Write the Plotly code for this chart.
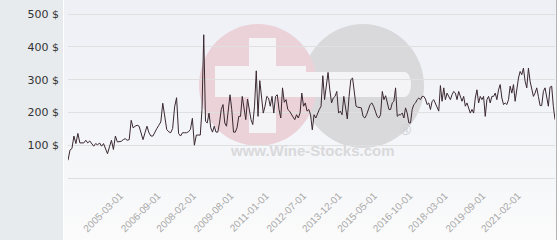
import base64
import pandas as pd
import plotly.graph_objects as go

# ---- data, in three consecutive stretches ----
prices_a = [
    54, 85, 90, 128, 105, 136, 107, 107, 107, 115, 107, 113, 103, 97, 105, 101, 107, 97, 105, 90,
    74, 95, 115, 87, 128, 110, 112, 112, 117, 120, 115, 117, 176, 153, 158, 161, 158, 136, 117, 138,
    158, 138, 128, 128, 141, 151, 161, 171, 228, 187, 148, 141, 138, 151, 217, 245, 136, 128, 138, 138,
    138, 141, 148, 182, 100, 131, 131, 131,
]
prices_b = [
    209, 437, 173, 168, 198, 153, 140, 158, 140, 140, 168, 209, 224, 168, 158, 204, 254, 209, 140, 140,
    153, 188, 188, 249, 219, 178, 241, 209, 178, 163, 219, 327, 188, 297, 249, 198, 219, 249, 244, 219,
    249, 198, 249, 254, 209, 183, 275, 231, 239, 209, 204, 193, 186, 178, 193, 183, 198, 259, 219, 229,
    204, 209, 193, 147, 193, 183, 198, 209, 219, 312, 239, 275, 322, 269, 229, 244, 249, 264, 198, 204,
    193, 249, 209, 180, 249, 300, 305, 264, 219, 216, 214, 214, 188, 183, 193, 209, 224, 229, 219, 204,
    188, 183, 193,
]
prices_c = [
    264, 239, 251, 229, 209, 209, 229, 234, 275, 188, 193, 193, 198, 183, 214, 198, 168, 168, 209, 224,
    229, 239, 244, 239, 249, 249, 241, 224, 229, 209, 234, 239, 229, 219, 204, 282, 234, 275, 239, 259,
    249, 239, 254, 264, 259, 239, 264, 249, 234, 249, 219, 229, 209, 198, 209, 198, 244, 269, 229, 249,
    239, 249, 188, 239, 249, 229, 249, 249, 259, 239, 269, 285, 244, 224, 229, 224, 239, 280, 259, 285,
    234, 280, 305, 325, 315, 335, 295, 275, 335, 295, 275, 249, 259, 275, 249, 221, 221, 264, 275, 239,
    219, 277, 280, 219, 178,
]
# first / last date of each stretch
span_a = ("2002-11-16", "2008-03-03")
span_b = ("2008-03-28", "2015-05-22")
span_c = ("2015-06-16", "2022-05-15")

dates = (list(pd.date_range(*span_a, periods=len(prices_a)))
         + list(pd.date_range(*span_b, periods=len(prices_b)))
         + list(pd.date_range(*span_c, periods=len(prices_c))))
prices = prices_a + prices_b + prices_c

x_tick_labels = ["2005-03-01", "2006-09-01", "2008-02-01", "2009-08-01", "2011-01-01", "2012-07-01",
                 "2013-12-01", "2015-05-01", "2016-10-01", "2018-03-01", "2019-09-01", "2021-02-01"]
y_tick_values = [100, 200, 300, 400, 500]
y_tick_labels = [f"{v} $" for v in y_tick_values]

# ---- layout geometry ----
W, H = 560, 240
ML, MR, MT, MB = 68, 5, 0, 62
PW, PH = W - ML - MR, H - MT - MB


def px(x):
    return (x - ML) / PW


def py(y):
    return (MT + PH - y) / PH


fig = go.Figure()
fig.add_trace(go.Scatter(x=dates, y=prices, mode="lines",
                         line=dict(color="#3a2830", width=1), hoverinfo="skip"))

svg = ('<svg xmlns="http://www.w3.org/2000/svg" width="10" height="100" preserveAspectRatio="none">'
       '<defs><linearGradient id="g" x1="0" y1="0" x2="0" y2="1">'
       '<stop offset="0" stop-color="#eef0f6"/><stop offset="0.75" stop-color="#f6f7f9"/>'
       '<stop offset="1" stop-color="#fbfbfb"/></linearGradient></defs>'
       '<rect width="10" height="100" fill="url(#g)"/></svg>')
src = "data:image/svg+xml;base64," + base64.b64encode(svg.encode()).decode()

shapes = [
    # left panel
    dict(type="rect", xref="paper", yref="paper", x0=px(0), x1=px(63), y0=py(H), y1=py(0),
         fillcolor="#e7ebee", line=dict(width=0), layer="below"),
    # watermark circles
    dict(type="circle", xref="paper", yref="paper", x0=px(302), x1=px(424), y0=py(148), y1=py(24),
         fillcolor="#d9d9dc", line=dict(width=0), layer="below"),
    dict(type="circle", xref="paper", yref="paper", x0=px(199), x1=px(317), y0=py(146), y1=py(24),
         fillcolor="#ebd2d9", line=dict(width=0), layer="below"),
    # plus
    dict(type="rect", xref="paper", yref="paper", x0=px(249), x1=px(276), y0=py(133), y1=py(38),
         fillcolor="#f4f4f7", line=dict(width=0), layer="below"),
    dict(type="rect", xref="paper", yref="paper", x0=px(215), x1=px(306), y0=py(97), y1=py(66),
         fillcolor="#f4f4f7", line=dict(width=0), layer="below"),
    # minus
    dict(type="rect", xref="paper", yref="paper", x0=px(306), x1=px(404), y0=py(97), y1=py(72),
         fillcolor="#f4f4f7", line=dict(width=0), layer="below"),
    dict(type="circle", xref="paper", yref="paper", x0=px(398), x1=px(411), y0=py(97), y1=py(72),
         fillcolor="#f4f4f7", line=dict(width=0), layer="below"),
    # right border
    dict(type="line", xref="paper", yref="paper", x0=px(556.5), x1=px(556.5), y0=py(H), y1=py(0),
         line=dict(color="#b4b4b4", width=1), layer="above"),
]

fig.update_layout(
    width=W, height=H,
    margin=dict(l=ML, r=MR, t=MT, b=MB, pad=0),
    paper_bgcolor="#ffffff", plot_bgcolor="rgba(0,0,0,0)",
    showlegend=False,
    shapes=shapes,
    images=[dict(source=src, xref="paper", yref="paper", x=px(64), y=py(0),
                 sizex=px(556) - px(64), sizey=py(0) - py(H), xanchor="left", yanchor="top",
                 sizing="stretch", layer="below")],
    annotations=[
        dict(text="www.Wine-Stocks.com", xref="paper", yref="paper", x=px(312), y=py(161),
             showarrow=False, font=dict(family="Liberation Sans, Arial", size=15, color="#d9d9db",
                                        weight="bold")),
        dict(text="®", xref="paper", yref="paper", x=px(413), y=py(140),
             showarrow=False, font=dict(family="Liberation Sans, Arial", size=15, color="#d2d2d5",
                                        weight="bold")),
    ],
    xaxis=dict(
        type="date", range=[dates[0], dates[-1]],
        tickvals=x_tick_labels, ticktext=x_tick_labels, tickangle=-45,
        tickfont=dict(family="Liberation Sans, Arial", size=10, color="#a8a8a8"),
        showgrid=False, zeroline=False, showline=True, linecolor="#dedede", linewidth=1,
        ticks="", ticklabelstandoff=7, ticklabelshift=-5,
    ),
    yaxis=dict(
        range=[0, 543], tickvals=y_tick_values, ticktext=y_tick_labels,
        tickfont=dict(family="DejaVu Sans", size=11, color="#333333"),
        showgrid=True, gridcolor="#e0e0e0", gridwidth=1, zeroline=False,
        ticks="", ticklabelstandoff=8,
    ),
)

fig.write_html("out.html")
